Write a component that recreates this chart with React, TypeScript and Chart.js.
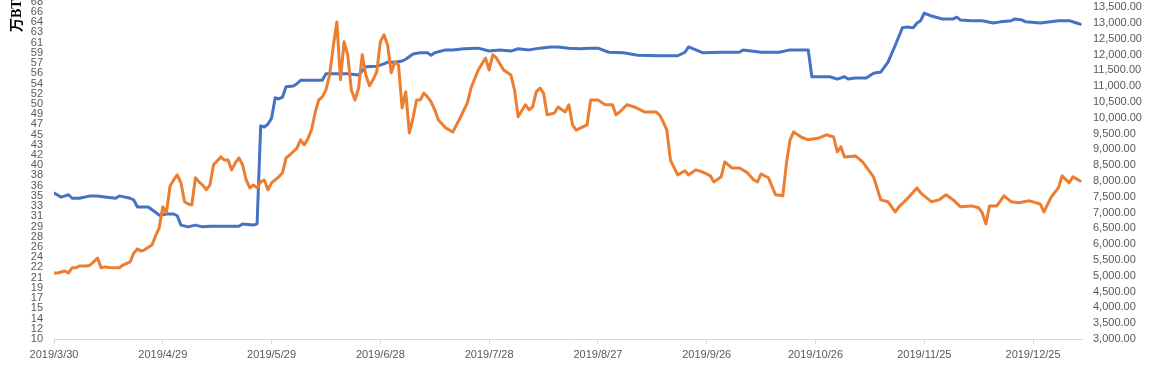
import React, { useEffect, useRef } from "react";
import { Chart, registerables } from "chart.js";

Chart.register(...registerables);

// x axis: days since 2019/3/30
const tickDays = [0, 30, 60, 90, 120, 150, 180, 210, 240, 270];
const tickLabels = [
  "2019/3/30", "2019/4/29", "2019/5/29", "2019/6/28", "2019/7/28",
  "2019/8/27", "2019/9/26", "2019/10/26", "2019/11/25", "2019/12/25",
];
const lastDay = 283.5;

// Blue series (left axis, 万BTC)
const holdDays = [
  0, 2, 4, 5, 7, 10, 12, 14, 17, 18, 21, 22, 23, 26, 28, 29, 31, 33, 34, 35,
  37, 39, 41, 43, 47, 51, 52, 55, 56, 57, 58, 59, 60, 61, 62, 63, 64, 66, 67, 68,
  74, 75, 81, 84, 85, 86, 89, 91, 92, 94, 96, 97, 99, 101, 103, 104, 105, 108, 110, 113,
  117, 120, 123, 126, 128, 131, 134, 137, 139, 142, 145, 148, 150, 153, 157, 161, 167, 172, 174, 175,
  177, 179, 184, 189, 190, 195, 200, 203, 208, 209, 211, 214, 216, 218, 219, 221, 224, 226, 228, 230,
  232, 234, 235, 237, 238, 239, 240, 242, 245, 248, 249, 250, 253, 256, 259, 261, 264, 265, 267, 268,
  272, 277, 280, 282, 283,
];
const holdValues = [
  35.0, 34.3, 34.7, 34.1, 34.1, 34.5, 34.5, 34.3, 34.1, 34.5, 34.1, 33.8, 32.6, 32.6, 31.7, 31.2, 31.4, 31.4, 31.1, 29.5,
  29.2, 29.5, 29.2, 29.3, 29.3, 29.3, 29.7, 29.5, 29.7, 46.5, 46.3, 46.8, 47.8, 51.3, 51.1, 51.4, 53.2, 53.3, 53.7, 54.3,
  54.3, 55.4, 55.4, 55.2, 55.9, 56.6, 56.7, 57.1, 57.4, 57.4, 57.6, 57.9, 58.8, 59.0, 59.0, 58.6, 59.0, 59.5, 59.5, 59.7,
  59.8, 59.3, 59.5, 59.3, 59.7, 59.5, 59.8, 60.0, 60.0, 59.8, 59.7, 59.8, 59.8, 59.1, 59.0, 58.6, 58.5, 58.5, 59.1, 60.0,
  59.5, 59.0, 59.1, 59.1, 59.5, 59.1, 59.1, 59.5, 59.5, 54.9, 54.9, 54.9, 54.5, 54.9, 54.5, 54.7, 54.7, 55.5, 55.7, 57.4,
  60.3, 63.3, 63.4, 63.3, 64.1, 64.5, 65.8, 65.3, 64.8, 64.8, 65.1, 64.6, 64.5, 64.5, 64.1, 64.3, 64.5, 64.8, 64.6, 64.3,
  64.1, 64.5, 64.5, 64.1, 63.9,
];

// Orange series (right axis)
const priceDays = [
  0, 1, 3, 4, 5, 6, 7, 9, 10, 12, 13, 14, 16, 18, 19, 21, 22, 23, 24, 25,
  27, 28, 29, 30, 31, 32, 33, 34, 35, 36, 37, 38, 39, 40, 41, 42, 43, 44, 46, 47,
  48, 49, 50, 51, 52, 53, 54, 55, 56, 57, 58, 59, 60, 62, 63, 64, 65, 67, 68, 69,
  70, 71, 72, 73, 74, 75, 76, 77, 78, 79, 80, 81, 82, 83, 84, 85, 86, 87, 88, 89,
  90, 91, 92, 93, 94, 95, 96, 97, 98, 99, 100, 101, 102, 103, 104, 105, 106, 108, 110, 112,
  114, 115, 117, 119, 120, 121, 122, 124, 126, 127, 128, 130, 131, 132, 133, 134, 135, 136, 138, 139,
  141, 142, 143, 144, 147, 148, 150, 152, 154, 155, 156, 158, 160, 163, 166, 167, 168, 169, 170, 172,
  174, 175, 177, 179, 181, 182, 184, 185, 187, 189, 191, 193, 194, 195, 197, 199, 201, 202, 203, 204,
  206, 208, 211, 213, 215, 216, 217, 218, 221, 223, 226, 228, 230, 232, 233, 235, 237, 238, 239, 242,
  244, 246, 248, 250, 253, 255, 256, 257, 258, 260, 262, 264, 266, 269, 272, 273, 275, 277, 278, 280,
  281, 283,
];
const priceValues = [
  5090, 5090, 5150, 5090, 5250, 5250, 5310, 5310, 5340, 5560, 5250, 5280, 5250, 5250, 5340, 5440, 5720, 5850, 5780, 5820,
  5970, 6260, 6510, 7180, 6990, 7840, 8030, 8190, 7940, 7340, 7270, 7240, 8100, 7970, 7870, 7720, 7870, 8510, 8760, 8660,
  8660, 8350, 8570, 8730, 8510, 8030, 7780, 7870, 7780, 7970, 8030, 7720, 7940, 8130, 8250, 8730, 8820, 9040, 9300, 9140,
  9330, 9610, 10150, 10560, 10660, 10880, 11350, 12240, 13030, 11200, 12400, 11990, 10880, 10560, 10940, 11990, 11350, 11010, 11200, 11450,
  12400, 12620, 12300, 11420, 11770, 11670, 10310, 10820, 9520, 9990, 10560, 10560, 10780, 10660, 10500, 10250, 9930, 9680, 9550, 9990,
  10470, 10940, 11510, 11890, 11510, 11990, 11890, 11510, 11350, 10880, 10030, 10410, 10250, 10340, 10820, 10940, 10780, 10090, 10150, 10340,
  10180, 10410, 9770, 9610, 9770, 10560, 10560, 10410, 10410, 10090, 10180, 10410, 10340, 10180, 10180, 10090, 9870, 9610, 8660, 8190,
  8320, 8190, 8350, 8280, 8160, 7970, 8130, 8600, 8410, 8410, 8280, 8030, 7970, 8220, 8100, 7560, 7530, 8570, 9300, 9550,
  9390, 9300, 9360, 9460, 9390, 8920, 9080, 8760, 8790, 8600, 8130, 7400, 7340, 7020, 7180, 7400, 7650, 7780, 7620, 7340,
  7400, 7560, 7400, 7180, 7210, 7150, 6990, 6640, 7210, 7210, 7530, 7340, 7310, 7370, 7270, 7020, 7490, 7780, 8160, 7940,
  8130, 8000,
];

// Left axis ticks: 10 + 1.75 * i
const leftMin = 10;
const leftStep = 1.75;
const leftTickCount = 34;
const leftMax = 67.7;
// Right axis ticks
const rightMin = 3000;
const rightStep = 500;
const rightLastTick = 13500;
const rightMax = 13660;

const axisTitle = "万BTC";

const labelFont = { family: "'Liberation Sans', Arial, sans-serif", size: 11 };
const labelColor = "#595959";

export default function App() {
  const canvasRef = useRef<HTMLCanvasElement | null>(null);

  useEffect(() => {
    const canvas = canvasRef.current;
    if (!canvas) return;

    const titlePlugin = {
      id: "axisTitleTop",
      afterDraw(chart: any) {
        const ctx = chart.ctx;
        ctx.save();
        ctx.translate(17, 32);
        ctx.rotate(-Math.PI / 2);
        ctx.font = "bold 14px 'Liberation Serif', 'Noto Sans CJK SC', serif";
        ctx.fillStyle = "#000000";
        ctx.textAlign = "left";
        ctx.textBaseline = "middle";
        ctx.fillText(axisTitle, 0, 0);
        ctx.restore();
      },
    };

    const chart = new Chart(canvas, {
      type: "line",
      data: {
        datasets: [
          {
            label: "price",
            data: priceDays.map((d, i) => ({ x: d, y: priceValues[i] })),
            yAxisID: "y1",
            borderColor: "#ED7D31",
            borderWidth: 3,
            pointRadius: 0,
            tension: 0,
            borderJoinStyle: "round",
            borderCapStyle: "round",
          },
          {
            label: "hold",
            data: holdDays.map((d, i) => ({ x: d, y: holdValues[i] })),
            yAxisID: "y",
            borderColor: "#4472C4",
            borderWidth: 3,
            pointRadius: 0,
            tension: 0,
            borderJoinStyle: "round",
            borderCapStyle: "round",
          },
        ],
      },
      options: {
        animation: false,
        responsive: true,
        maintainAspectRatio: false,
        layout: { padding: { top: 2, left: 0, right: 0, bottom: 0 } },
        plugins: {
          legend: { display: false },
          tooltip: { enabled: false },
        },
        scales: {
          x: {
            type: "linear",
            min: 0,
            max: lastDay,
            afterBuildTicks: (scale: any) => {
              scale.ticks = tickDays.map((v) => ({ value: v }));
            },
            afterFit: (scale: any) => {
              scale.height = 41;
              scale.paddingLeft = 0;
              scale.paddingRight = 0;
            },
            ticks: {
              autoSkip: false,
              maxRotation: 0,
              minRotation: 0,
              padding: 4,
              font: labelFont,
              color: labelColor,
              callback: (v: any) => {
                const idx = tickDays.indexOf(Number(v));
                return idx >= 0 ? tickLabels[idx] : "";
              },
            },
            grid: {
              display: true,
              drawOnChartArea: false,
              drawTicks: true,
              tickLength: 5,
              color: "#d9d9d9",
            },
            border: { display: true, color: "#d9d9d9", width: 1 },
          },
          y: {
            type: "linear",
            position: "left",
            min: leftMin,
            max: leftMax,
            afterBuildTicks: (scale: any) => {
              const t = [];
              for (let i = 0; i < leftTickCount; i++) t.push({ value: leftMin + leftStep * i });
              scale.ticks = t;
            },
            afterFit: (scale: any) => {
              scale.width = 54;
              scale.paddingTop = 0;
              scale.paddingBottom = 0;
            },
            ticks: {
              autoSkip: false,
              padding: 11,
              font: labelFont,
              color: labelColor,
              callback: (v: any) => String(Math.round(Number(v))),
            },
            grid: { display: false, drawTicks: false },
            border: { display: false },
          },
          y1: {
            type: "linear",
            position: "right",
            min: rightMin,
            max: rightMax,
            afterBuildTicks: (scale: any) => {
              const t = [];
              for (let v = rightMin; v <= rightLastTick; v += rightStep) t.push({ value: v });
              scale.ticks = t;
            },
            afterFit: (scale: any) => {
              scale.width = 69;
              scale.paddingTop = 0;
              scale.paddingBottom = 0;
            },
            ticks: {
              autoSkip: false,
              padding: 11,
              font: labelFont,
              color: labelColor,
              callback: (v: any) =>
                Number(v).toLocaleString("en-US", {
                  minimumFractionDigits: 2,
                  maximumFractionDigits: 2,
                }),
            },
            grid: { display: false, drawTicks: false },
            border: { display: false },
          },
        },
      },
      plugins: [titlePlugin],
    });

    return () => {
      chart.destroy();
    };
  }, []);

  return (
    <div
      style={{
        position: "absolute",
        left: 0,
        top: 0,
        width: "1151px",
        height: "380px",
        background: "#ffffff",
      }}
    >
      <canvas ref={canvasRef} />
    </div>
  );
}
